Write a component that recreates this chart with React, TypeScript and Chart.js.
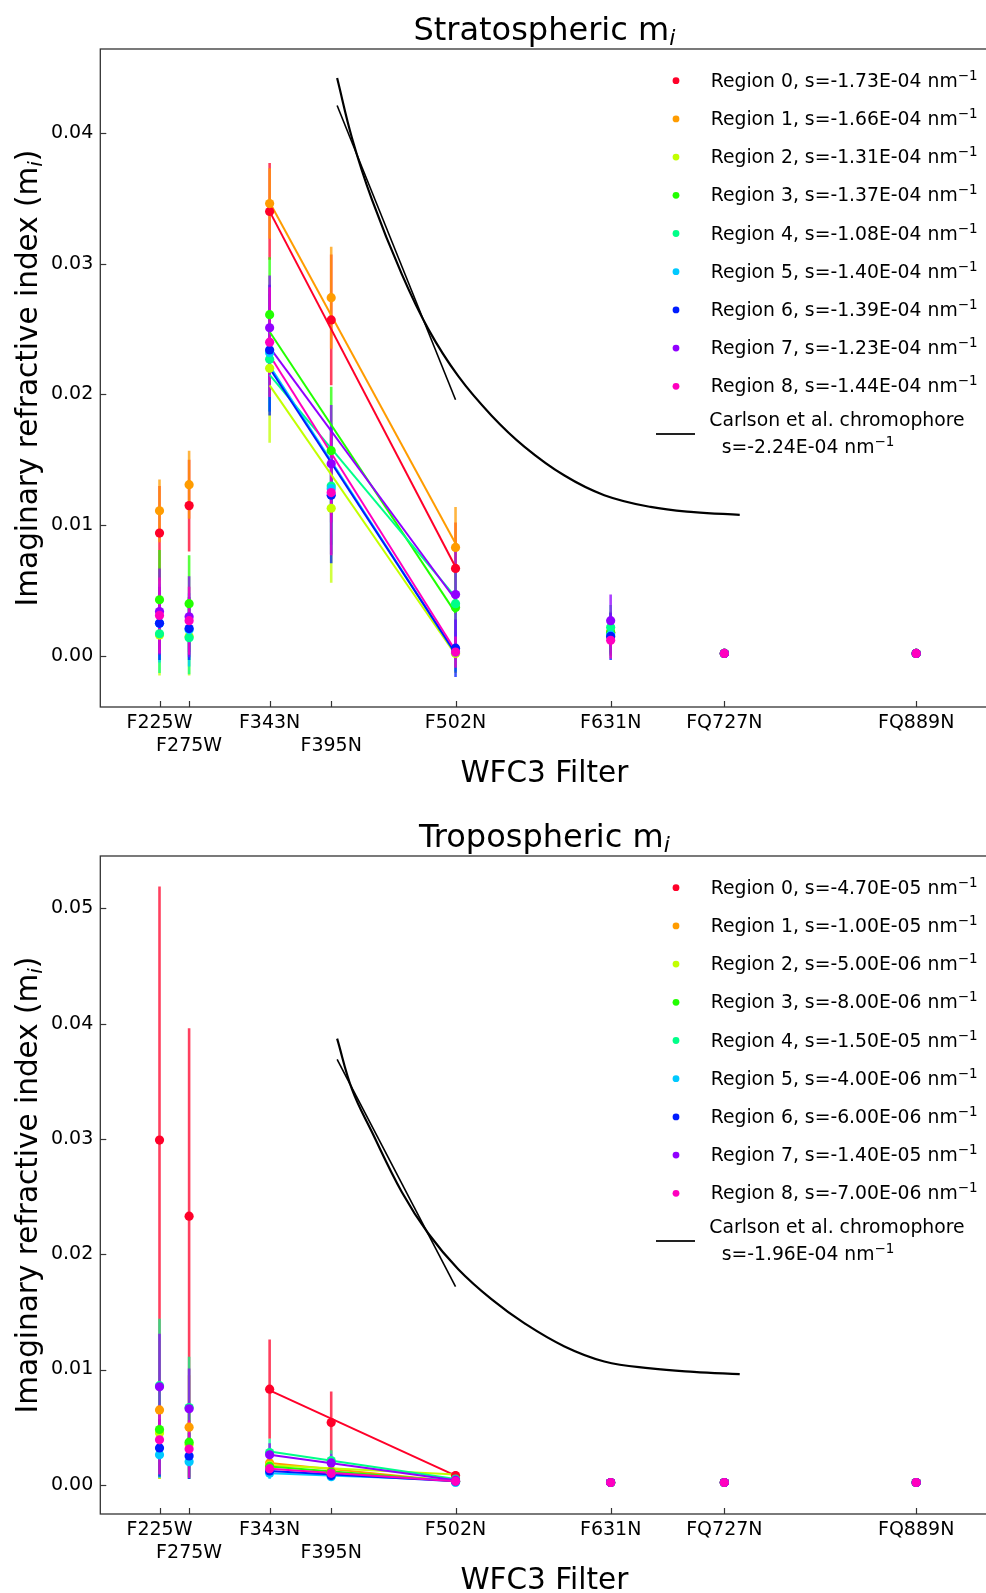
import React, { useEffect, useRef } from 'react';
import { Chart, registerables } from 'chart.js';

Chart.register(...registerables);

const FF = '"DejaVu Sans", "Noto Sans", sans-serif';

// ---------- axes ----------
const FILTERS = ['F225W', 'F275W', 'F343N', 'F395N', 'F502N', 'F631N', 'FQ727N', 'FQ889N'];
const FILTER_NM = [250, 275, 343, 395, 500, 631, 727, 889];
const FILTER_LABEL_ROW = [0, 1, 0, 1, 0, 0, 0, 0];
const X_RANGE = [200, 950];

const STRAT_Y_TICKS = [0, 0.01, 0.02, 0.03, 0.04];
const STRAT_Y_RANGE = [-0.0039, 0.04642];
const TROP_Y_TICKS = [0, 0.01, 0.02, 0.03, 0.04, 0.05];
const TROP_Y_RANGE = [-0.00253, 0.05454];

// ---------- legend ----------
const REGION_NAMES = ['Region 0', 'Region 1', 'Region 2', 'Region 3', 'Region 4', 'Region 5', 'Region 6', 'Region 7', 'Region 8'];
const REGION_COLORS = ['#ff0029', '#ff9c00', '#c2ff00', '#22ff00', '#00ff89', '#00c9ff', '#001cff', '#9100ff', '#ff00bf'];
const STRAT_SLOPES = ['-1.73E-04', '-1.66E-04', '-1.31E-04', '-1.37E-04', '-1.08E-04', '-1.40E-04', '-1.39E-04', '-1.23E-04', '-1.44E-04'];
const TROP_SLOPES = ['-4.70E-05', '-1.00E-05', '-5.00E-06', '-8.00E-06', '-1.50E-05', '-4.00E-06', '-6.00E-06', '-1.40E-05', '-7.00E-06'];
const STRAT_CARLSON_SLOPE = '-2.24E-04';
const TROP_CARLSON_SLOPE = '-1.96E-04';

// ---------- Carlson et al. chromophore ----------
const CARLSON_NM = [400, 412.6, 429.4, 454.6, 477, 502.3, 530.3, 558.3, 592, 625.6, 664.7, 701.2, 740];
const STRAT_CARLSON = [0.0442, 0.0396, 0.0349, 0.0292, 0.025, 0.0214, 0.0184, 0.016, 0.0138, 0.0123, 0.0114, 0.011, 0.0108];
const TROP_CARLSON = [0.0387, 0.0343, 0.0306, 0.0254, 0.0218, 0.0187, 0.0161, 0.014, 0.012, 0.0107, 0.0101, 0.0098, 0.0096];
const CARLSON_FIT_NM = [400, 500];
const STRAT_CARLSON_FIT = [0.0421, 0.0196];
const TROP_CARLSON_FIT = [0.0369, 0.0172];

// ---------- region fits (F343N -> F502N) ----------
const REGION_FIT_NM = [343, 500];
const STRAT_FIT_START = [0.034, 0.0347, 0.0207, 0.0248, 0.0215, 0.0222, 0.022, 0.0236, 0.023];
const STRAT_FIT_END = [0.0068, 0.0086, 0.0001, 0.0033, 0.0045, 0.0002, 0.0002, 0.0043, 0.0004];
const TROP_FIT_START = [0.0082, 0.0019, 0.0017, 0.0016, 0.0029, 0.001, 0.0012, 0.0026, 0.0014];
const TROP_FIT_END = [0.0008, 0.0003, 0.0009, 0.0003, 0.0005, 0.0004, 0.0003, 0.0004, 0.0003];

// ---------- stratospheric m_i per region (columns = FILTERS) ----------
const STRAT_VALUES = [
  [0.0094, 0.0115, 0.034, 0.0257, 0.0067, 0.0018, 0.0002, 0.0002],
  [0.0111, 0.0131, 0.0346, 0.0274, 0.0083, 0.0018, 0.0002, 0.0002],
  [0.0016, 0.0015, 0.022, 0.0113, 0.0002, 0.0015, 0.0002, 0.0002],
  [0.0043, 0.004, 0.0261, 0.0157, 0.0037, 0.0018, 0.0002, 0.0002],
  [0.0017, 0.0014, 0.0227, 0.013, 0.004, 0.0022, 0.0002, 0.0002],
  [0.0025, 0.002, 0.0232, 0.0128, 0.0003, 0.0016, 0.0002, 0.0002],
  [0.0025, 0.0021, 0.0234, 0.0123, 0.0006, 0.0015, 0.0002, 0.0002],
  [0.0034, 0.003, 0.0251, 0.0147, 0.0047, 0.0027, 0.0002, 0.0002],
  [0.0031, 0.0027, 0.024, 0.0125, 0.0003, 0.0012, 0.0002, 0.0002],
];
const STRAT_ERRORS = [
  [0.0036, 0.0035, 0.0037, 0.005, 0.0035, 0.0015, 0, 0],
  [0.0024, 0.0026, 0.0027, 0.0039, 0.0031, 0.0015, 0, 0],
  [0.0031, 0.003, 0.0057, 0.0057, 0.0015, 0.0015, 0, 0],
  [0.0038, 0.0037, 0.0044, 0.0049, 0.003, 0.0016, 0, 0],
  [0.003, 0.0028, 0.004, 0.0045, 0.003, 0.0017, 0, 0],
  [0.003, 0.0028, 0.0045, 0.005, 0.0015, 0.0015, 0, 0],
  [0.0028, 0.0024, 0.005, 0.0052, 0.0022, 0.0018, 0, 0],
  [0.0033, 0.0031, 0.004, 0.0045, 0.0039, 0.002, 0, 0],
  [0.0029, 0.0026, 0.0042, 0.0048, 0.0012, 0.0014, 0, 0],
];

// ---------- tropospheric m_i per region ----------
const TROP_VALUES = [
  [0.0299, 0.0233, 0.0083, 0.0054, 0.0008, 0.0002, 0.0002, 0.0002],
  [0.0065, 0.005, 0.0019, 0.0012, 0.0003, 0.0002, 0.0002, 0.0002],
  [0.0045, 0.0035, 0.0017, 0.001, 0.0003, 0.0002, 0.0002, 0.0002],
  [0.0048, 0.0037, 0.0016, 0.0011, 0.0003, 0.0002, 0.0002, 0.0002],
  [0.0086, 0.0067, 0.0028, 0.0021, 0.0005, 0.0002, 0.0002, 0.0002],
  [0.0026, 0.002, 0.001, 0.0007, 0.0002, 0.0002, 0.0002, 0.0002],
  [0.0032, 0.0025, 0.0012, 0.0008, 0.0003, 0.0002, 0.0002, 0.0002],
  [0.0085, 0.0066, 0.0026, 0.0019, 0.0004, 0.0002, 0.0002, 0.0002],
  [0.0039, 0.0031, 0.0014, 0.001, 0.0003, 0.0002, 0.0002, 0.0002],
];
const TROP_ERRORS = [
  [0.022, 0.0163, 0.0043, 0.0027, 0.0004, 0, 0, 0],
  [0.006, 0.0045, 0.0006, 0.0004, 0.0002, 0, 0, 0],
  [0.004, 0.003, 0.0006, 0.0004, 0.0002, 0, 0, 0],
  [0.004, 0.003, 0.0006, 0.0004, 0.0002, 0, 0, 0],
  [0.0058, 0.0044, 0.0012, 0.0009, 0.0002, 0, 0, 0],
  [0.002, 0.0015, 0.0005, 0.0003, 0.0002, 0, 0, 0],
  [0.0025, 0.002, 0.0005, 0.0004, 0.0002, 0, 0, 0],
  [0.0046, 0.0035, 0.001, 0.0008, 0.0002, 0, 0, 0],
  [0.003, 0.0025, 0.0006, 0.0004, 0.0002, 0, 0, 0],
];

type Part = { t: string; font: string; dy?: number };

function measureParts(ctx: CanvasRenderingContext2D, parts: Part[]) {
  let w = 0;
  for (const p of parts) {
    ctx.font = p.font;
    w += ctx.measureText(p.t).width;
  }
  return w;
}

function drawParts(ctx: CanvasRenderingContext2D, parts: Part[], x: number, y: number, center: boolean) {
  ctx.textAlign = 'left';
  let cx = center ? x - measureParts(ctx, parts) / 2 : x;
  for (const p of parts) {
    ctx.font = p.font;
    ctx.fillText(p.t, cx, y + (p.dy || 0));
    cx += ctx.measureText(p.t).width;
  }
}

function hexA(hex: string, a: number) {
  const r = parseInt(hex.slice(1, 3), 16);
  const g = parseInt(hex.slice(3, 5), 16);
  const b = parseInt(hex.slice(5, 7), 16);
  return `rgba(${r},${g},${b},${a})`;
}

type Spec = {
  title: string;
  top: number;
  padTop: number;
  xAxisH: number;
  yRange: number[];
  yTicks: number[];
  values: number[][];
  errors: number[][];
  fitStart: number[];
  fitEnd: number[];
  slopes: string[];
  carlson: number[];
  carlsonFit: number[];
  carlsonSlope: string;
};

const PLOT_H = 658;
const CANVAS_W = 993;

function buildConfig(spec: Spec): any {
  const datasets: any[] = [];
  datasets.push({
    data: CARLSON_NM.map((x, i) => ({ x, y: spec.carlson[i] })),
    showLine: true,
    borderColor: '#000',
    borderWidth: 2.2,
    pointRadius: 0,
    tension: 0.4,
    order: 1000,
  });
  datasets.push({
    data: CARLSON_FIT_NM.map((x, i) => ({ x, y: spec.carlsonFit[i] })),
    showLine: true,
    borderColor: '#000',
    borderWidth: 1.6,
    pointRadius: 0,
    order: 999,
  });
  REGION_COLORS.forEach((c, r) => {
    datasets.push({
      data: [
        { x: REGION_FIT_NM[0], y: spec.fitStart[r] },
        { x: REGION_FIT_NM[1], y: spec.fitEnd[r] },
      ],
      showLine: true,
      borderColor: c,
      borderWidth: 2,
      pointRadius: 0,
      order: 500 - r,
    });
  });
  REGION_COLORS.forEach((c, r) => {
    datasets.push({
      data: FILTER_NM.map((x, f) => ({ x, y: spec.values[r][f] })),
      showLine: false,
      pointRadius: 4.6,
      pointBackgroundColor: c,
      pointBorderWidth: 0,
      borderColor: c,
      order: 100 - r,
    });
  });

  const plugin = {
    id: 'custom-' + spec.title,
    beforeDatasetsDraw(chart: any) {
      const { ctx, chartArea, scales } = chart;
      const x = scales.x;
      const y = scales.y;
      ctx.save();
      ctx.beginPath();
      ctx.rect(chartArea.left, chartArea.top, chartArea.right - chartArea.left, chartArea.bottom - chartArea.top);
      ctx.clip();
      ctx.lineWidth = 2.6;
      ctx.lineCap = 'butt';
      REGION_COLORS.forEach((c, r) => {
        ctx.strokeStyle = hexA(c, 0.75);
        FILTER_NM.forEach((nm, f) => {
          const e = spec.errors[r][f];
          if (!e) return;
          const v = spec.values[r][f];
          const px = x.getPixelForValue(nm);
          ctx.beginPath();
          ctx.moveTo(px, y.getPixelForValue(v + e));
          ctx.lineTo(px, y.getPixelForValue(v - e));
          ctx.stroke();
        });
      });
      ctx.restore();
    },
    afterDraw(chart: any) {
      const { ctx, chartArea, scales } = chart;
      const x = scales.x;
      const y = scales.y;
      const L = chartArea.left;
      const T = chartArea.top;
      const R = chartArea.right;
      const B = chartArea.bottom;
      ctx.save();
      // frame
      ctx.strokeStyle = '#333';
      ctx.lineWidth = 1.3;
      ctx.strokeRect(L, T, R - L, B - T);
      // inward ticks
      ctx.lineWidth = 1.2;
      FILTER_NM.forEach((nm) => {
        const px = Math.round(x.getPixelForValue(nm)) + 0.5;
        ctx.beginPath();
        ctx.moveTo(px, B);
        ctx.lineTo(px, B - 6);
        ctx.stroke();
      });
      spec.yTicks.forEach((v) => {
        const py = Math.round(y.getPixelForValue(v)) + 0.5;
        ctx.beginPath();
        ctx.moveTo(L, py);
        ctx.lineTo(L + 6, py);
        ctx.stroke();
      });
      ctx.fillStyle = '#000';
      ctx.textBaseline = 'alphabetic';
      const cx = (L + R) / 2;
      // title
      drawParts(ctx, [
        { t: spec.title + ' m', font: `32px ${FF}` },
        { t: 'i', font: `italic 22px ${FF}`, dy: 5 },
      ], cx, T - 9, true);
      // x title
      drawParts(ctx, [{ t: 'WFC3 Filter', font: `29.5px ${FF}` }], cx, B + 75, true);
      // y title
      ctx.save();
      ctx.translate(37, (T + B) / 2);
      ctx.rotate(-Math.PI / 2);
      drawParts(ctx, [
        { t: 'Imaginary refractive index (m', font: `29.5px ${FF}` },
        { t: 'i', font: `italic 20px ${FF}`, dy: 5 },
        { t: ')', font: `29.5px ${FF}` },
      ], 0, 0, true);
      ctx.restore();
      // legend
      const dotX = 676;
      const textX = 710.7;
      REGION_COLORS.forEach((c, r) => {
        const ry = T + 31.7 + r * 38.2;
        ctx.fillStyle = c;
        ctx.beginPath();
        ctx.arc(dotX, ry, 3.4, 0, Math.PI * 2);
        ctx.fill();
        ctx.fillStyle = '#000';
        drawParts(ctx, [
          { t: `${REGION_NAMES[r]}, s=${spec.slopes[r]} nm`, font: `18.8px ${FF}` },
          { t: '\u22121', font: `13.5px ${FF}`, dy: -7 },
        ], textX, ry + 6, false);
      });
      ctx.strokeStyle = '#222';
      ctx.lineWidth = 2;
      ctx.beginPath();
      ctx.moveTo(656, T + 385);
      ctx.lineTo(695, T + 385);
      ctx.stroke();
      ctx.fillStyle = '#000';
      drawParts(ctx, [{ t: 'Carlson et al. chromophore', font: `18.8px ${FF}` }], 709.3, T + 376.7, false);
      drawParts(ctx, [
        { t: `s=${spec.carlsonSlope} nm`, font: `18.8px ${FF}` },
        { t: '\u22121', font: `13.5px ${FF}`, dy: -7 },
      ], 721.7, T + 404.3, false);
      ctx.restore();
    },
  };

  return {
    type: 'scatter',
    data: { datasets },
    plugins: [plugin],
    options: {
      animation: false,
      responsive: false,
      devicePixelRatio: 1,
      events: [],
      layout: { padding: { top: spec.padTop, left: 0, right: 0, bottom: 0 } },
      plugins: { legend: { display: false }, tooltip: { enabled: false }, title: { display: false } },
      scales: {
        x: {
          type: 'linear',
          min: X_RANGE[0],
          max: X_RANGE[1],
          grid: { display: false, drawTicks: false },
          border: { display: false },
          afterBuildTicks: (s: any) => {
            s.ticks = FILTER_NM.map((v) => ({ value: v }));
          },
          afterFit: (s: any) => {
            s.height = spec.xAxisH;
          },
          ticks: {
            autoSkip: false,
            maxRotation: 0,
            minRotation: 0,
            padding: 5,
            color: '#000',
            font: { size: 19, family: FF },
            callback: (_v: any, i: number) => (FILTER_LABEL_ROW[i] ? ['', FILTERS[i]] : FILTERS[i]),
          },
        },
        y: {
          type: 'linear',
          min: spec.yRange[0],
          max: spec.yRange[1],
          grid: { display: false, drawTicks: false },
          border: { display: false },
          afterBuildTicks: (s: any) => {
            s.ticks = spec.yTicks.map((v) => ({ value: v }));
          },
          afterFit: (s: any) => {
            s.width = 100.3;
          },
          ticks: {
            padding: 7,
            color: '#000',
            font: { size: 19, family: FF },
            callback: (v: any) => Number(v).toFixed(2),
          },
        },
      },
    },
  };
}

function Panel({ spec }: { spec: Spec }) {
  const ref = useRef<HTMLCanvasElement>(null);
  const h = spec.padTop + PLOT_H + spec.xAxisH;
  useEffect(() => {
    const chart = new Chart(ref.current as HTMLCanvasElement, buildConfig(spec));
    return () => chart.destroy();
  }, []);
  return (
    <canvas
      ref={ref}
      width={CANVAS_W}
      height={h}
      style={{ position: 'absolute', left: 0, top: spec.top, width: CANVAS_W, height: h, display: 'block' }}
    />
  );
}

const STRAT_SPEC: Spec = {
  title: 'Stratospheric',
  top: 0,
  padTop: 49,
  xAxisH: 93,
  yRange: STRAT_Y_RANGE,
  yTicks: STRAT_Y_TICKS,
  values: STRAT_VALUES,
  errors: STRAT_ERRORS,
  fitStart: STRAT_FIT_START,
  fitEnd: STRAT_FIT_END,
  slopes: STRAT_SLOPES,
  carlson: STRAT_CARLSON,
  carlsonFit: STRAT_CARLSON_FIT,
  carlsonSlope: STRAT_CARLSON_SLOPE,
};

const TROP_SPEC: Spec = {
  title: 'Tropospheric',
  top: 800,
  padTop: 56,
  xAxisH: 96,
  yRange: TROP_Y_RANGE,
  yTicks: TROP_Y_TICKS,
  values: TROP_VALUES,
  errors: TROP_ERRORS,
  fitStart: TROP_FIT_START,
  fitEnd: TROP_FIT_END,
  slopes: TROP_SLOPES,
  carlson: TROP_CARLSON,
  carlsonFit: TROP_CARLSON_FIT,
  carlsonSlope: TROP_CARLSON_SLOPE,
};

export default function App() {
  return (
    <div
      style={{
        position: 'absolute',
        left: 0,
        top: 0,
        width: 986,
        height: 1593,
        overflow: 'hidden',
        background: '#fff',
      }}
    >
      <Panel spec={STRAT_SPEC} />
      <Panel spec={TROP_SPEC} />
    </div>
  );
}
